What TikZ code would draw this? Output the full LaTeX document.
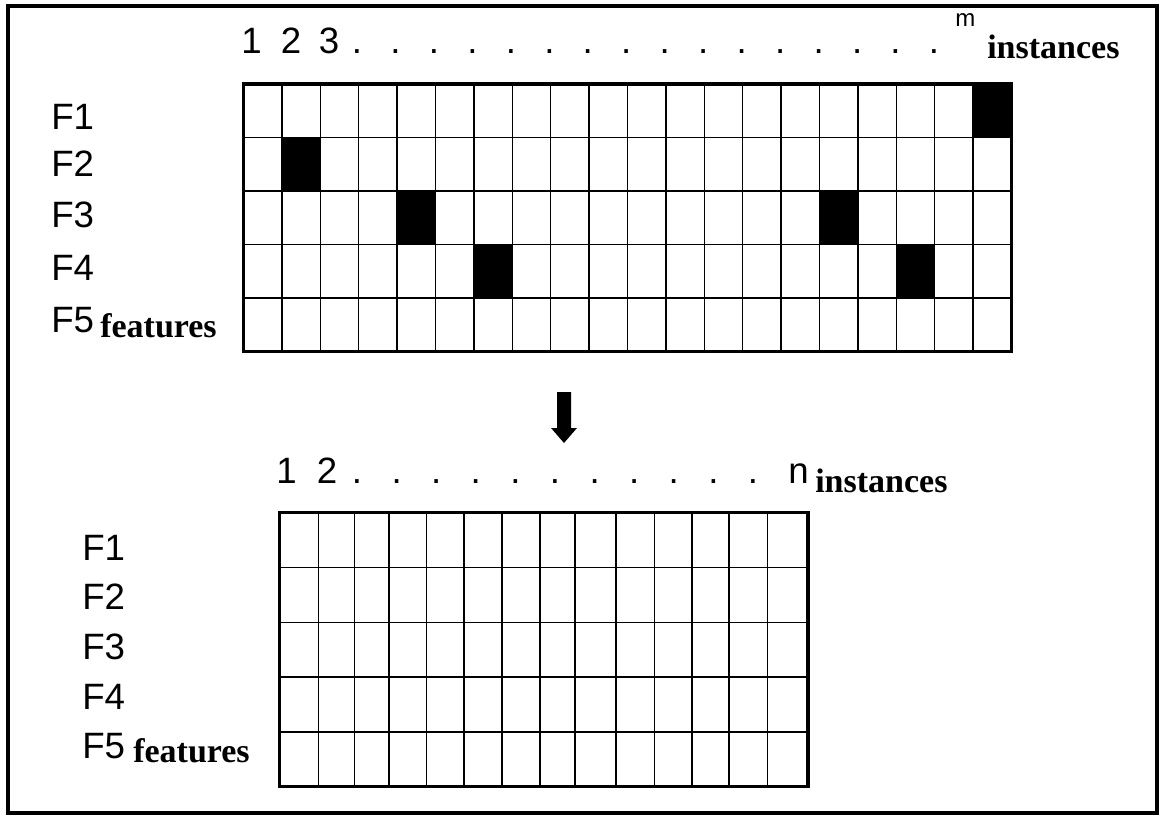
\documentclass[tikz,border=0pt]{standalone}
\usepackage{fontspec}
\setmainfont{Liberation Serif}
\newfontfamily\arialf{Liberation Sans}
\begin{document}
\begin{tikzpicture}[x=0.75pt,y=-0.75pt,
  lab/.style={anchor=base west,inner sep=0pt,font=\arialf\fontsize{27.5}{27.5}\selectfont},
  dotn/.style={anchor=base,inner sep=0pt,font=\arialf\fontsize{27.5}{27.5}\selectfont},
  bword/.style={anchor=base west,inner sep=0pt,font=\bfseries\fontsize{25.5}{25.5}\selectfont},
  thin/.style={line width=1.1pt},
  thick/.style={line width=2.6pt},
  cell/.style={fill=black}]
\useasboundingbox (0,0) rectangle (1160,815);
\draw[line width=3.6pt] (8,6) rectangle (1157,813);
% ---------- top grid ----------
\fill[cell] (973.1,84) rectangle (1011.5,137.5);
\fill[cell] (281.9,137.5) rectangle (320.3,191);
\fill[cell] (397.1,191) rectangle (435.5,244.5);
\fill[cell] (819.5,191) rectangle (857.9,244.5);
\fill[cell] (473.9,244.5) rectangle (512.3,298);
\fill[cell] (896.3,244.5) rectangle (934.7,298);
\foreach \i in {1,...,19}{\draw[thin] ({243.5+38.4*\i},84) -- ({243.5+38.4*\i},351.5);}
\foreach \j in {1,...,4}{\draw[thin] (243.5,{84+53.5*\j}) -- (1011.5,{84+53.5*\j});}
\draw[thick] (243.5,84) rectangle (1011.5,351.5);
% top header
\node[lab] (t1) at (241,53) {1};
\node[lab] (t2) at (280.5,53) {2};
\node[lab] (t3) at (318.5,53) {3};
\foreach \k in {0,...,15}{\node[dotn] (td\k) at ({357+38.47*\k},53) {.};}
\node[anchor=base west,inner sep=0pt,font=\arialf\fontsize{18}{18}\selectfont] (tm) at (955,26) {m};
\node[bword] (ti) at (987,58) {instances};
% top labels
\node[lab] (a1) at (51,129) {F1};
\node[lab] (a2) at (51,176) {F2};
\node[lab] (a3) at (51,227) {F3};
\node[lab] (a4) at (51,280) {F4};
\node[lab] (a5) at (51,332) {F5};
\node[bword] (af) at (100,337) {features};
% ---------- arrow ----------
\fill (557,392) -- (571,392) -- (571,428) -- (577,428) -- (564,443) -- (551,428) -- (557,428) -- cycle;
% ---------- bottom grid ----------
\foreach \x in {318.6,354.3,388.9,426.6,464.2,502.2,539.9,574.9,615.9,654.3,692.0,729.2,767.7}{\draw[thin] (\x,512.7) -- (\x,786.7);}
\foreach \j in {1,...,4}{\draw[thin] (279.4,{512.7+54.8*\j}) -- (808,{512.7+54.8*\j});}
\draw[thick] (279.4,512.7) rectangle (808,786.7);
% bottom header
\node[lab] (b1) at (276,483) {1};
\node[lab] (b2) at (316.5,483) {2};
\foreach \k in {0,...,10}{\node[dotn] (bd\k) at ({357+39.6*\k},483) {.};}
\node[lab] (bn) at (788,483) {n};
\node[bword] (bi) at (815,492) {instances};
% bottom labels
\node[lab] (c1) at (82,560) {F1};
\node[lab] (c2) at (82,609) {F2};
\node[lab] (c3) at (82,659) {F3};
\node[lab] (c4) at (82,709) {F4};
\node[lab] (c5) at (82,758) {F5};
\node[bword] (cf) at (133,762) {features};
\end{tikzpicture}
\end{document}
